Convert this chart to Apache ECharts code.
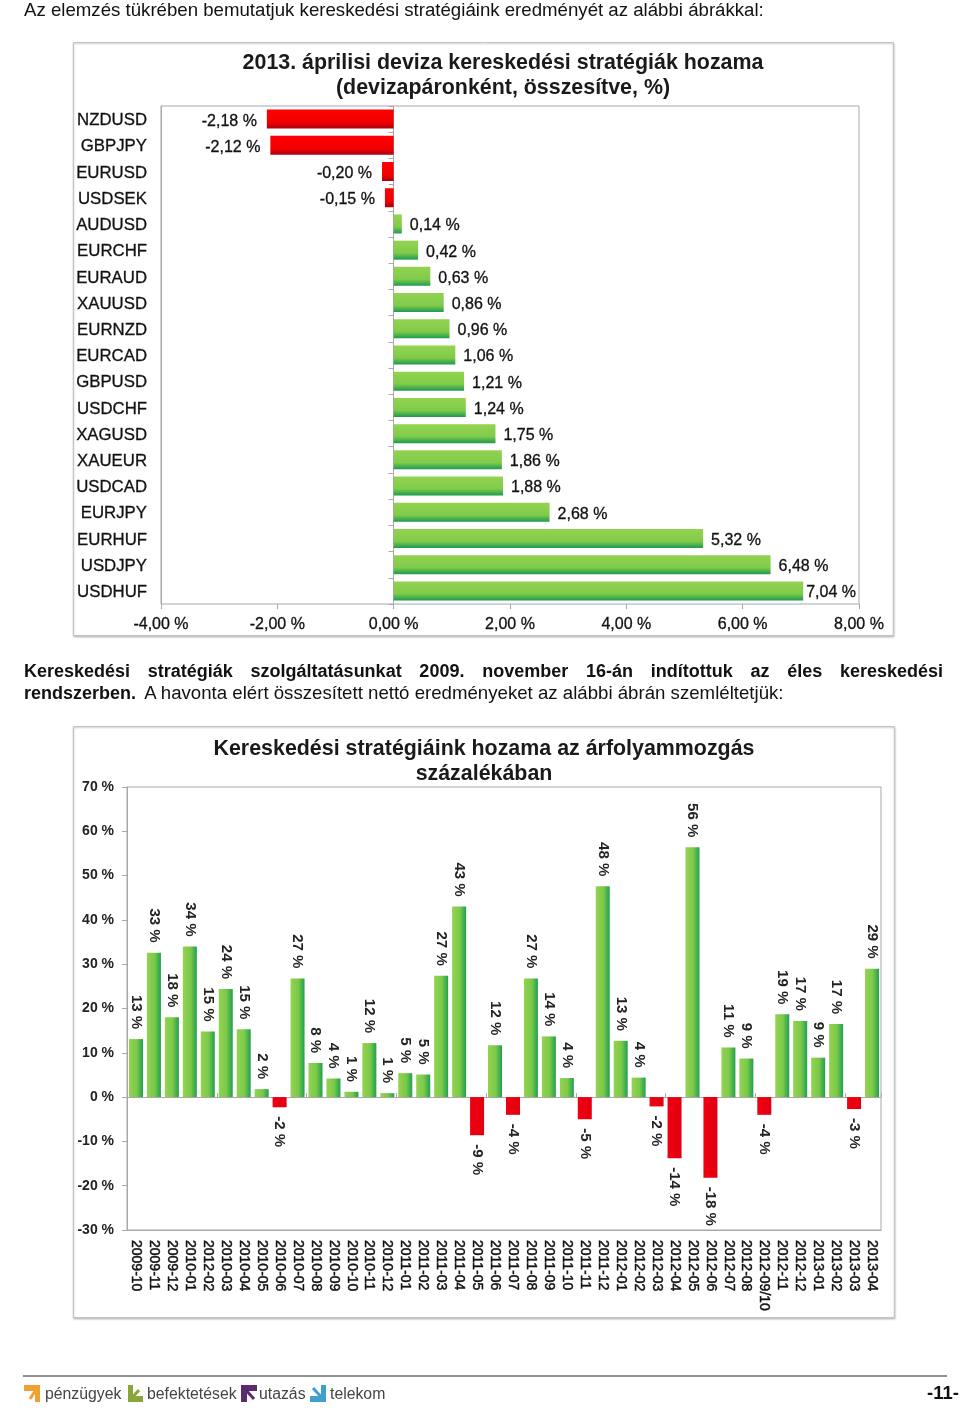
<!DOCTYPE html>
<html><head><meta charset="utf-8">
<style>
html,body{margin:0;padding:0;background:#fff;width:960px;height:1412px;overflow:hidden}
#c{position:absolute;left:0;top:0;width:960px;height:1412px}
.t{position:absolute;font-family:"Liberation Sans",Arial,sans-serif;color:#111;font-size:18.65px;line-height:21px;white-space:nowrap}
.j{white-space:normal;text-align:justify;text-align-last:justify;font-size:18px}
</style>
<script src="https://cdn.jsdelivr.net/npm/echarts@6/dist/echarts.min.js"></script>
</head><body>
<div id="c"></div>
<div class="t" style="left:24px;top:-1px">Az elemzés tükrében bemutatjuk kereskedési stratégiáink eredményét az alábbi ábrákkal:</div>
<div class="t j" style="left:24px;top:661px;width:919px;font-weight:bold">Kereskedési stratégiák szolgáltatásunkat 2009. november 16-án indítottuk az éles kereskedési</div>
<div class="t" style="left:24px;top:682px"><b style="font-size:18px;margin-right:4px">rendszerben.</b> A havonta elért összesített nettó eredményeket az alábbi ábrán szemléltetjük:</div>
<script>
var pairs = ['NZDUSD','GBPJPY','EURUSD','USDSEK','AUDUSD','EURCHF','EURAUD','XAUUSD','EURNZD','EURCAD','GBPUSD','USDCHF','XAGUSD','XAUEUR','USDCAD','EURJPY','EURHUF','USDJPY','USDHUF'];
var pairReturns = [-2.18,-2.12,-0.20,-0.15,0.14,0.42,0.63,0.86,0.96,1.06,1.21,1.24,1.75,1.86,1.88,2.68,5.32,6.48,7.04];
var months = ['2009-10','2009-11','2009-12','2010-01','2012-02','2010-03','2010-04','2010-05','2010-06','2010-07','2010-08','2010-09','2010-10','2010-11','2010-12','2011-01','2011-02','2011-03','2011-04','2011-05','2011-06','2011-07','2011-08','2011-09','2011-10','2011-11','2011-12','2012-01','2012-02','2012-03','2012-04','2012-05','2012-06','2012-07','2012-08','2012-09/10','2012-11','2012-12','2013-01','2013-02','2013-03','2013-04'];
var monthlyReturns = [13.1,32.6,18,34,14.8,24.4,15.3,1.8,-2.3,26.8,7.7,4.2,1.2,12.2,0.9,5.4,5.1,27.4,43,-8.6,11.7,-4,26.8,13.7,4.3,-5,47.6,12.7,4.4,-2.1,-13.8,56.4,-18.2,11.2,8.7,-4,18.7,17.2,8.9,16.5,-2.7,29];
var title1 = '2013. áprilisi deviza kereskedési stratégiák hozama\n(devizapáronként, összesítve, %)';
var title2 = 'Kereskedési stratégiáink hozama az árfolyammozgás\nszázalékában';

var FF = '"Liberation Sans",Arial,sans-serif';
var G = echarts.graphic.LinearGradient;
var green1 = new G(0,0,0,1,[{offset:0,color:'#93d350'},{offset:0.65,color:'#80cb4a'},{offset:1,color:'#1c9a50'}]);
var red1 = new G(0,0,0,1,[{offset:0,color:'#ff0000'},{offset:0.7,color:'#f00000'},{offset:1,color:'#a80010'}]);
var green2 = new G(0,0,1,0,[{offset:0,color:'#93d350'},{offset:0.55,color:'#7cc94a'},{offset:1,color:'#1fa04f'}]);
var red2 = new G(0,0,1,0,[{offset:0,color:'#f00010'},{offset:1,color:'#e00010'}]);
var pct2 = function(v){return v.toFixed(2).replace('.',',')+' %';};
var axisC = '#a8a8a8';

var option = {
  backgroundColor:'#fff', animation:false,
  title:[
    {text:title1,left:498,top:46,textAlign:'center',textStyle:{fontFamily:FF,fontSize:21.4,fontWeight:'bold',color:'#1a1a1a',lineHeight:25}},
    {text:title2,left:479,top:732,textAlign:'center',textStyle:{fontFamily:FF,fontSize:21.4,fontWeight:'bold',color:'#1a1a1a',lineHeight:25}}
  ],
  grid:[
    {left:161,top:106,width:698,height:498,show:true,borderColor:axisC,borderWidth:1},
    {left:127,top:787,width:754,height:443,show:true,borderColor:axisC,borderWidth:1}
  ],
  xAxis:[
    {gridIndex:0,type:'value',min:-4,max:8,interval:2,splitLine:{show:false},
     axisLine:{onZero:false,lineStyle:{color:axisC}},axisTick:{show:true,length:5,lineStyle:{color:axisC}},
     axisLabel:{margin:13,fontFamily:FF,fontSize:16,color:'#111',formatter:pct2,textBorderColor:'#111',textBorderWidth:0.3}},
    {gridIndex:1,type:'category',data:months,position:'bottom',
     axisLine:{onZero:false,lineStyle:{color:axisC}},axisTick:{show:false},
     axisLabel:{interval:0,rotate:-90,margin:10,fontFamily:FF,fontSize:14,color:'#111',textBorderColor:'#111',textBorderWidth:0.45}},
    {gridIndex:1,type:'category',data:months,
     axisLine:{show:true,onZero:true,onZeroAxisIndex:2,lineStyle:{color:axisC}},axisTick:{show:true,length:4,lineStyle:{color:axisC}},axisLabel:{show:false}}
  ],
  yAxis:[
    {gridIndex:0,type:'category',data:pairs,inverse:true,
     axisLine:{onZero:false,lineStyle:{color:axisC}},axisTick:{show:false},
     axisLabel:{margin:14,lineHeight:19,verticalAlign:'top',padding:[-8,0,0,0],fontFamily:FF,fontSize:16.8,color:'#111',textBorderColor:'#111',textBorderWidth:0.3}},
    {gridIndex:0,type:'category',data:pairs,inverse:true,position:'left',
     axisLine:{show:true,onZero:true,onZeroAxisIndex:0,lineStyle:{color:axisC}},axisTick:{show:true,length:5,lineStyle:{color:axisC}},axisLabel:{show:false}},
    {gridIndex:1,type:'value',min:-30,max:70,interval:10,splitLine:{show:false},
     axisLine:{show:true,lineStyle:{color:axisC}},axisTick:{show:true,length:5,lineStyle:{color:axisC}},
     axisLabel:{margin:13,fontFamily:FF,fontSize:14,fontWeight:'bold',color:'#222',formatter:function(v){return v+' %';}}}
  ],
  series:[
    {type:'bar',xAxisIndex:0,yAxisIndex:0,barWidth:19,z:4,
     data:pairReturns.map(function(v){return {value:v,itemStyle:{color:v<0?red1:green1},
       label:{show:true,position:v<0?'left':'right',distance:v<0?10:(v>7?3:8),offset:[0,2],formatter:function(p){return pct2(p.value);},
       fontFamily:FF,fontSize:16,color:'#111',textBorderColor:'#111',textBorderWidth:0.3}};})},
    {type:'bar',xAxisIndex:1,yAxisIndex:2,barWidth:14,z:4,
     data:monthlyReturns.map(function(v){return {value:v,itemStyle:{color:v<0?red2:green2},
       label:{show:true,position:v<0?'bottom':'top',distance:v<0?9:10,rotate:-90,align:v<0?'left':'right',verticalAlign:'middle',
       formatter:function(p){return Math.round(p.value)+' %';},fontFamily:FF,fontSize:15,fontWeight:'bold',color:'#222'}};})}
  ],
  graphic:[
    {type:'rect',z:-1,silent:true,shape:{x:73.5,y:42.5,width:820,height:593},style:{fill:'#fff',stroke:'#c4c4c4',lineWidth:1,shadowBlur:2,shadowColor:'#bbb',shadowOffsetY:1}},
    {type:'rect',z:-1,silent:true,shape:{x:73.5,y:726.5,width:821,height:591},style:{fill:'#fff',stroke:'#c4c4c4',lineWidth:1,shadowBlur:2,shadowColor:'#bbb',shadowOffsetY:1}},
    {type:'line',silent:true,shape:{x1:23,y1:1376,x2:947,y2:1376},style:{stroke:'#222',lineWidth:1}},
    {type:'polygon',silent:true,shape:{points:[[24,1385],[40,1385],[40,1402],[35,1402],[35,1391],[24,1391]]},style:{fill:'#f0a030'}},
    {type:'line',silent:true,shape:{x1:30,y1:1399,x2:37,y2:1388},style:{stroke:'#f0a030',lineWidth:3}},
    {type:'text',silent:true,style:{x:45,y:1395,text:'pénzügyek',fill:'#444',font:'15.8px '+FF,verticalAlign:'middle'}},
    {type:'polygon',silent:true,shape:{points:[[128,1385],[133,1385],[133,1396],[143,1396],[143,1402],[128,1402]]},style:{fill:'#8aa63a'}},
    {type:'line',silent:true,shape:{x1:131,y1:1399,x2:139,y2:1390},style:{stroke:'#8aa63a',lineWidth:3}},
    {type:'text',silent:true,style:{x:147,y:1395,text:'befektetések',fill:'#444',font:'15.8px '+FF,verticalAlign:'middle'}},
    {type:'polygon',silent:true,shape:{points:[[241,1385],[257,1385],[257,1391],[247,1391],[247,1402],[241,1402]]},style:{fill:'#5c2a6e'}},
    {type:'line',silent:true,shape:{x1:244,y1:1388,x2:254,y2:1399},style:{stroke:'#5c2a6e',lineWidth:3}},
    {type:'text',silent:true,style:{x:259,y:1395,text:'utazás',fill:'#444',font:'15.8px '+FF,verticalAlign:'middle'}},
    {type:'polygon',silent:true,shape:{points:[[321,1385],[326,1385],[326,1402],[310,1402],[310,1396],[321,1396]]},style:{fill:'#3fa0d0'}},
    {type:'line',silent:true,shape:{x1:313,y1:1388,x2:323,y2:1399},style:{stroke:'#3fa0d0',lineWidth:3}},
    {type:'text',silent:true,style:{x:330,y:1395,text:'telekom',fill:'#444',font:'15.8px '+FF,verticalAlign:'middle'}},
    {type:'text',silent:true,style:{x:927,y:1394,text:'-11-',fill:'#111',font:'bold 18.5px '+FF,verticalAlign:'middle'}}
  ]
};
var chart = echarts.init(document.getElementById('c'),null,{renderer:'canvas',width:960,height:1412});
chart.setOption(option);
</script>
</body></html>
